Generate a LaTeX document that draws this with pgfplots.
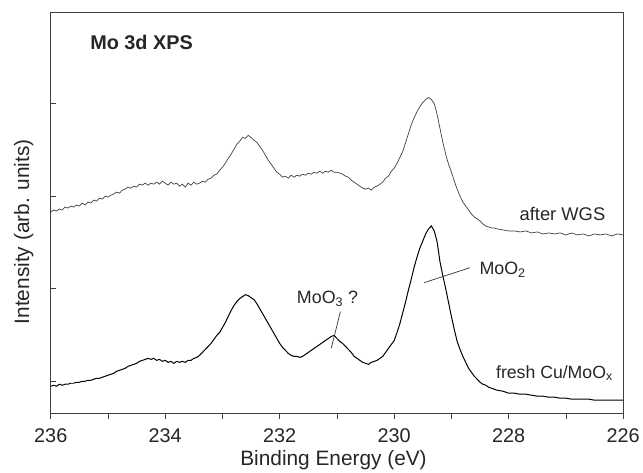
\documentclass[border=0pt]{standalone}
\usepackage{pgfplots}
\pgfplotsset{compat=1.18}
\usepackage{fontspec}
\setmainfont{Liberation Sans}
\begin{document}
\begin{tikzpicture}
\begin{axis}[
  scale only axis, width=575bp, height=403bp,
  x dir=reverse,
  xmin=226, xmax=236, ymin=0, ymax=403,
  xtick={226,227,...,236},
  xticklabels={226,,228,,230,,232,,234,,236},
  ytick={32,125,218,311}, yticklabels={},
  xtick pos=bottom, ytick pos=left,
  tick align=inside, major tick length=5.5bp,
  xtick style={yshift=-5.5bp},
  axis line style={black!75, line width=0.8bp},
  tick style={black!75, line width=0.8bp},
  /pgf/number format/assume math mode=true,
  every tick label/.style={font=\fontsize{20}{23}\selectfont, text=black!85},
  xticklabel style={anchor=base, yshift=-30bp},
  xlabel={Binding Energy (eV)},
  ylabel={Intensity (arb. units)},
  label style={font=\fontsize{21}{24}\selectfont, text=black!85},
  xlabel style={at={(axis description cs:0.494,-0.116)}, anchor=center},
  ylabel style={at={(axis description cs:-0.047,0.452)}, anchor=center},
  clip=false,
]
\coordinate (sw) at (rel axis cs:0,0);
% after WGS
\addplot[black!75, line width=0.7bp] coordinates {
(236.0,202)(235.95,204)(235.9,203)(235.85,205)(235.8,204)(235.75,207)(235.7,206)(235.65,208)(235.6,207)(235.55,209)
(235.5,208)(235.45,211)(235.4,209)(235.35,212)(235.3,211)(235.25,214)(235.2,213)(235.15,216)(235.1,215)(235.05,218)
(235.0,217)(234.95,219)(234.9,220)(234.85,222)(234.8,221)(234.75,224)(234.7,225)(234.65,227)(234.6,226)(234.55,228)
(234.5,227)(234.45,230)(234.4,229)(234.35,231)(234.3,229)(234.25,231)(234.2,230)(234.15,232)(234.1,230)(234.05,233)
(234.0,231)(233.95,229)(233.9,232)(233.85,230)(233.8,231)(233.75,228)(233.7,230)(233.65,227)(233.6,231)(233.55,229)
(233.5,232)(233.45,230)(233.4,231)(233.35,233)(233.3,232)(233.25,235)(233.2,236)(233.15,239)(233.1,240)(233.05,244)
(233.0,247)(232.95,251)(232.9,256)(232.85,260)(232.8,265)(232.75,270)(232.7,273)(232.65,277)(232.6,276)(232.55,279)
(232.5,277)(232.45,274)(232.4,272)(232.35,268)(232.3,264)(232.25,259)(232.2,254)(232.15,250)(232.1,246)(232.05,242)
(232.0,240)(231.95,237)(231.9,238)(231.85,236)(231.8,239)(231.75,237)(231.7,239)(231.65,238)(231.6,240)(231.55,239)
(231.5,241)(231.45,240)(231.4,242)(231.35,241)(231.3,243)(231.25,241)(231.2,243)(231.15,242)(231.1,244)(231.05,242)
(231.0,242)(230.95,241)(230.9,240)(230.85,238)(230.8,237)(230.75,234)(230.7,232)(230.65,230)(230.6,228)(230.55,226)
(230.5,225)(230.45,226)(230.4,224)(230.35,227)(230.3,228)(230.25,230)(230.2,232)(230.15,236)(230.1,238)(230.05,243)
(230.0,246)(229.95,251)(229.9,257)(229.85,263)(229.8,272)(229.75,281)(229.7,290)(229.65,297)(229.6,303)(229.55,308)
(229.5,312)(229.45,315)(229.4,317)(229.35,315)(229.3,311)(229.25,300)(229.2,286)(229.15,272)(229.1,260)(229.05,250)
(229.0,242)(228.95,233)(228.9,225)(228.85,218)(228.8,212)(228.75,208)(228.7,204)(228.65,200)(228.6,197)(228.55,195)
(228.5,193)(228.45,190)(228.4,188)(228.35,187)(228.3,186)(228.25,186)(228.2,185)(228.1,184)(228.0,183)(227.9,183)
(227.8,182)(227.7,183)(227.6,181)(227.5,182)(227.4,180)(227.3,181)(227.2,180)(227.1,181)(227.0,179)(226.9,181)
(226.8,179)(226.7,180)(226.6,178)(226.5,180)(226.4,179)(226.3,180)(226.2,178)(226.1,180)(226.0,179)
};
% fresh
\addplot[black, line width=1bp] coordinates {
(236.0,27)(235.95,28)(235.9,27)(235.85,29)(235.8,28)(235.75,29)(235.7,29)(235.65,30)(235.6,30)(235.55,31)
(235.5,31)(235.45,32)(235.4,32)(235.35,33)(235.3,33)(235.25,34)(235.2,35)(235.15,35)(235.1,36)(235.05,37)
(235.0,38)(234.95,39)(234.9,40)(234.85,42)(234.8,43)(234.75,44)(234.7,45)(234.65,47)(234.6,48)(234.55,49)
(234.5,50)(234.45,52)(234.4,53)(234.35,54)(234.3,55)(234.25,54)(234.2,55)(234.15,53)(234.1,54)(234.05,52)
(234.0,53)(233.95,51)(233.9,52)(233.85,50)(233.8,52)(233.75,51)(233.7,52)(233.65,51)(233.6,53)(233.55,53)
(233.5,55)(233.45,56)(233.4,58)(233.35,61)(233.3,64)(233.25,67)(233.2,70)(233.15,74)(233.1,78)(233.05,81)
(233.0,86)(232.95,91)(232.9,97)(232.85,103)(232.8,108)(232.75,112)(232.7,115)(232.65,117)(232.6,119)(232.55,118)
(232.5,116)(232.45,114)(232.4,110)(232.35,105)(232.3,100)(232.25,95)(232.2,90)(232.15,85)(232.1,80)(232.05,75)
(232.0,70)(231.95,66)(231.9,63)(231.85,60)(231.8,58)(231.75,57)(231.7,57)(231.65,56)(231.6,57)(231.55,59)
(231.5,61)(231.45,63)(231.4,65)(231.35,67)(231.3,69)(231.25,71)(231.2,73)(231.15,75)(231.1,77)(231.05,78)
(231.0,75)(230.95,72)(230.9,70)(230.85,67)(230.8,64)(230.75,61)(230.7,57)(230.65,55)(230.6,53)(230.55,51)
(230.5,50)(230.45,49)(230.4,51)(230.35,52)(230.3,53)(230.25,55)(230.2,57)(230.15,61)(230.1,65)(230.05,69)
(230.0,73)(229.95,81)(229.9,90)(229.85,101)(229.8,112)(229.75,124)(229.7,135)(229.65,147)(229.6,157)(229.55,166)
(229.5,173)(229.45,180)(229.4,185)(229.35,188)(229.3,183)(229.25,172)(229.2,152)(229.15,138)(229.1,125)(229.05,111)
(229.0,97)(228.95,84)(228.9,72)(228.85,64)(228.8,57)(228.75,51)(228.7,45)(228.65,41)(228.6,37)(228.55,34)
(228.5,31)(228.45,29)(228.4,28)(228.35,26)(228.3,25)(228.25,24)(228.2,23)(228.1,22)(228.0,20)(227.9,20)
(227.8,19)(227.7,19)(227.6,18)(227.5,17)(227.4,17)(227.3,16)(227.2,16)(227.1,15)(227.0,15)(226.9,14)
(226.8,14)(226.7,14)(226.6,14)(226.5,13)(226.4,13)(226.3,13)(226.2,13)(226.1,13)(226.0,13)
};
\node[anchor=west, font=\bfseries\fontsize{20}{23}\selectfont, text=black!85] at (axis cs:235.37,372) {Mo 3d XPS};
\node[anchor=west, font=\fontsize{18.5}{21}\selectfont, text=black!85] at (axis cs:227.87,200) {after WGS};
\node[anchor=west, font=\fontsize{17.8}{21}\selectfont, text=black!85] at (axis cs:228.28,40) {fresh Cu/MoO$_\mathrm{x}$};
\node[anchor=west, font=\fontsize{18}{21}\selectfont, text=black!85] at (axis cs:228.57,144) {MoO$_\mathrm{2}$};
\node[anchor=west, font=\fontsize{18}{21}\selectfont, text=black!85] at (axis cs:231.76,115) {MoO$_\mathrm{3}$ ?};
\draw[black!80, line width=0.7bp] (axis cs:228.68,146) -- (axis cs:229.48,131);
\draw[black!80, line width=0.7bp] (axis cs:230.94,102) -- (axis cs:231.10,65);
\end{axis}
\path (sw) ++(-51bp,-57bp) rectangle ++(643bp,472bp);
\end{tikzpicture}
\end{document}
